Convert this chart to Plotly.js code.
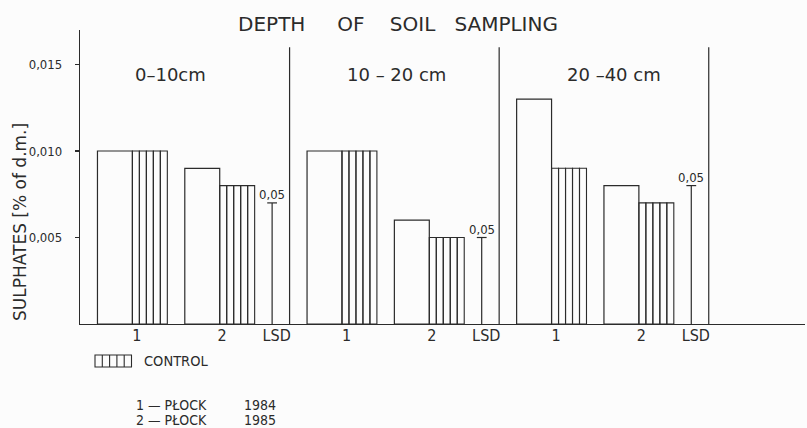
<!DOCTYPE html>
<html>
<head>
<meta charset="utf-8">
<script src="https://cdn.plot.ly/plotly-3.0.1.min.js"></script>
<style>
  html, body { margin: 0; padding: 0; background: #fcfcfc; }
  #chart { width: 807px; height: 428px; }
</style>
</head>
<body>
<div id="chart"></div>
<script>
// Sulphate content by depth of soil sampling
const depthLabels   = ['0\u201310cm', '10 \u2013 20 cm', '20 \u201340 cm'];
const plock1984     = [0.010, 0.010, 0.013];
const control1984   = [0.010, 0.010, 0.009];
const plock1985     = [0.009, 0.006, 0.008];
const control1985   = [0.008, 0.005, 0.007];
const lsd005        = [0.007, 0.005, 0.008];
const barTickLabels = ['1', '2', 'LSD'];
const yTickVals     = [0.005, 0.010, 0.015];
const yTickText     = ['0,005', '0,010', '0,015'];
const lsdLabel      = '0,05';
const controlLabel  = 'CONTROL';
const legendSites   = ['1 \u2014 P\u0141OCK', '2 \u2014 P\u0141OCK'];
const legendYears   = ['1984', '1985'];

// ---- geometry (x in bar-width units) ----
const GROUP = 6;            // width of one depth block
const BAR = 1;              // bar width
const STRIPES = 5;          // vertical strips inside a control bar
const openCenters = [1.0, 3.5];
const ctrlLefts   = [1.5, 4.0];
const lsdPos      = 5.5;
const tickOffsets = [1.63, 4.07, 5.63];
const depthLabelCenters = [2.58, 3.07, 3.29];

const INK = '#2b2b2b';
const FONT = 'DejaVu Sans, sans-serif';
const FONT_NARROW = 'DejaVu Sans Condensed, DejaVu Sans, sans-serif';
const NB = n => '\u00a0'.repeat(n);

// pixel frame of the plotting area
const W = 807, H = 428, L = 80, R = 805, T = 30, B = 324;
const px = x => (x - L) / (R - L);
const py = y => (B - y) / (B - T);

// open (treated) bars
const openX = [], openY = [];
for (let g = 0; g < 3; g++) {
  openX.push(g * GROUP + openCenters[0], g * GROUP + openCenters[1]);
  openY.push(plock1984[g], plock1985[g]);
}

// control bars, drawn as adjacent vertical strips
const ctrlX = [], ctrlY = [];
const stripW = BAR / STRIPES;
for (let g = 0; g < 3; g++) {
  [control1984[g], control1985[g]].forEach((v, i) => {
    for (let k = 0; k < STRIPES; k++) {
      ctrlX.push(g * GROUP + ctrlLefts[i] + stripW * (k + 0.5));
      ctrlY.push(v);
    }
  });
}

// LSD stems
const lsdX = [], lsdY = [], capX = [], capY = [];
for (let g = 0; g < 3; g++) {
  const x = g * GROUP + lsdPos;
  lsdX.push(x, x, null);
  lsdY.push(0, lsd005[g], null);
  capX.push(x);
  capY.push(lsd005[g]);
}

const traces = [
  {
    type: 'bar', x: openX, y: openY, width: BAR,
    marker: { color: 'rgba(255,255,255,0)', line: { color: INK, width: 1.2 } },
    hoverinfo: 'y', showlegend: false
  },
  {
    type: 'bar', x: ctrlX, y: ctrlY, width: stripW,
    marker: { color: 'rgba(255,255,255,0)', line: { color: INK, width: 1.1 } },
    hoverinfo: 'y', showlegend: false
  },
  {
    type: 'scatter', mode: 'lines', x: lsdX, y: lsdY,
    line: { color: INK, width: 1.2 }, hoverinfo: 'skip', showlegend: false
  },
  {
    type: 'scatter', mode: 'markers', x: capX, y: capY,
    marker: { symbol: 'line-ew', size: 7, line: { color: INK, width: 1.2 } },
    hoverinfo: 'y', showlegend: false
  }
];

// x tick labels under each block
const tickVals = [], tickText = [];
for (let g = 0; g < 3; g++) {
  tickOffsets.forEach((o, i) => { tickVals.push(g * GROUP + o); tickText.push(barTickLabels[i]); });
}

const shapes = [];
// block separators
for (let g = 1; g <= 3; g++) {
  shapes.push({ type: 'line', xref: 'x', yref: 'y', x0: g * GROUP, x1: g * GROUP,
    y0: 0, y1: 0.016, line: { color: INK, width: 1.2 } });
}
// legend swatch: box with vertical strips
const sw = { x0: 95, x1: 131.5, y0: 355, y1: 367 };
shapes.push({ type: 'rect', xref: 'paper', yref: 'paper',
  x0: px(sw.x0), x1: px(sw.x1), y0: py(sw.y1), y1: py(sw.y0),
  line: { color: INK, width: 1.1 } });
for (let k = 1; k < STRIPES; k++) {
  const xx = sw.x0 + (sw.x1 - sw.x0) * k / STRIPES;
  shapes.push({ type: 'line', xref: 'paper', yref: 'paper',
    x0: px(xx), x1: px(xx), y0: py(sw.y1), y1: py(sw.y0),
    line: { color: INK, width: 1.1 } });
}

const annotations = [];
// LSD significance labels above each stem
capX.forEach((x, g) => annotations.push({
  text: lsdLabel, xref: 'x', yref: 'y', x: x, y: capY[g],
  xanchor: 'center', yanchor: 'bottom', yshift: -1, showarrow: false,
  font: { family: FONT_NARROW, size: 13, color: INK }
}));
// depth labels
depthLabels.forEach((t, g) => annotations.push({
  text: t, xref: 'x', yref: 'paper', x: g * GROUP + depthLabelCenters[g], y: py(75),
  xanchor: 'center', yanchor: 'middle', showarrow: false,
  font: { family: FONT, size: 18, color: INK }
}));
// y axis title
annotations.push({
  text: 'SULPHATES [% of d.m.]', textangle: -90, xref: 'paper', yref: 'paper',
  x: px(20), y: py(222), xanchor: 'center', yanchor: 'middle', showarrow: false,
  font: { family: FONT, size: 17, color: INK }
});
// legend texts
annotations.push({
  text: controlLabel, xref: 'paper', yref: 'paper', x: px(142), y: py(361),
  xanchor: 'left', yanchor: 'middle', showarrow: false,
  font: { family: FONT_NARROW, size: 14.5, color: INK }
});
legendSites.forEach((t, i) => {
  annotations.push({
    text: t, xref: 'paper', yref: 'paper', x: px(134), y: py(405 + i * 15),
    xanchor: 'left', yanchor: 'middle', showarrow: false,
    font: { family: FONT_NARROW, size: 14, color: INK }
  });
  annotations.push({
    text: legendYears[i], xref: 'paper', yref: 'paper', x: px(242), y: py(405 + i * 15),
    xanchor: 'left', yanchor: 'middle', showarrow: false,
    font: { family: FONT_NARROW, size: 14, color: INK }
  });
});

const layout = {
  width: W, height: H,
  margin: { l: L, r: W - R, t: T, b: H - B, pad: 0 },
  paper_bgcolor: '#fcfcfc', plot_bgcolor: 'rgba(0,0,0,0)',
  barmode: 'overlay',
  showlegend: false,
  title: {
    text: 'DEPTH' + NB(5) + 'OF' + NB(4) + 'SOIL' + NB(3) + 'SAMPLING',
    x: 398 / W, xanchor: 'center', y: 1 - 24 / H, yanchor: 'middle',
    font: { family: FONT, size: 20, color: INK }
  },
  xaxis: {
    range: [0, (R - L) / 34.93], showgrid: false, zeroline: false,
    showline: true, linecolor: INK, linewidth: 1.2,
    tickmode: 'array', tickvals: tickVals, ticktext: tickText, ticks: '', ticklen: 0,
    tickfont: { family: FONT_NARROW, size: 16, color: INK }, ticklabelstandoff: -3,
    fixedrange: true
  },
  yaxis: {
    range: [0, (B - T) / 17300], showgrid: false, zeroline: false,
    showline: true, linecolor: INK, linewidth: 1.2,
    tickmode: 'array', tickvals: yTickVals, ticktext: yTickText,
    ticks: 'outside', ticklen: 4, tickwidth: 1.1, tickcolor: INK,
    tickfont: { family: FONT_NARROW, size: 13, color: INK }, ticklabelstandoff: 10,
    fixedrange: true
  },
  shapes: shapes,
  annotations: annotations
};

Plotly.newPlot('chart', traces, layout, { displayModeBar: false, staticPlot: true });
</script>
</body>
</html>
